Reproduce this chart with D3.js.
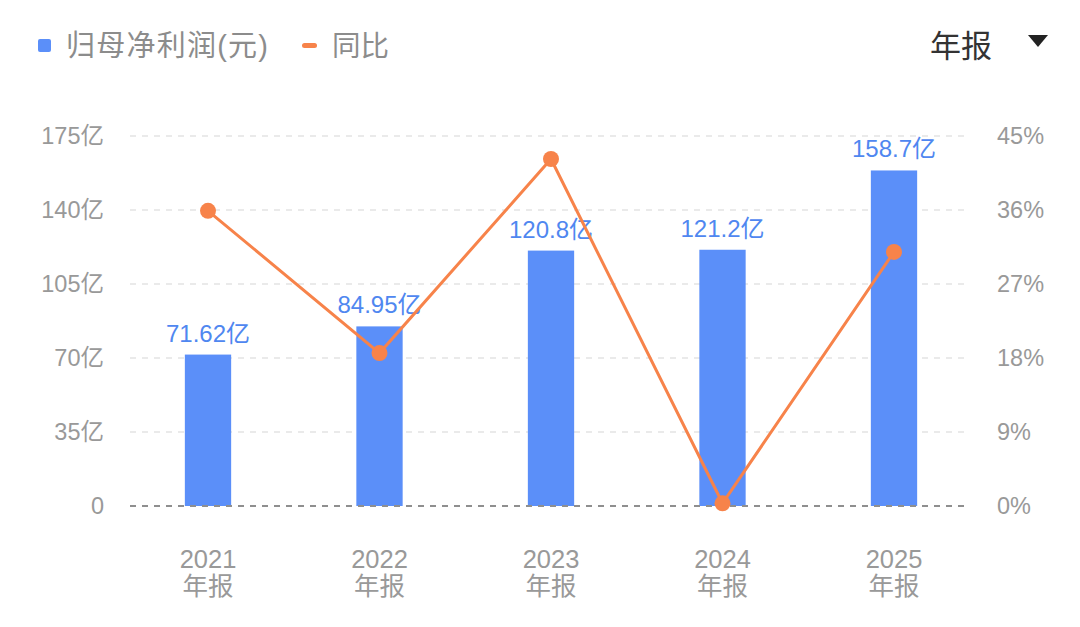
<!DOCTYPE html>
<html><head><meta charset="utf-8">
<script src="https://cdn.jsdelivr.net/npm/d3@7"></script>
<style>
html,body{margin:0;padding:0;background:#fff;}
svg{display:block;font-family:"Liberation Sans","Noto Sans CJK SC",sans-serif;}
</style></head>
<body>
<svg id="c" width="1080" height="627"></svg>
<script>
const years = ["2021","2022","2023","2024","2025"];
const periodLabel = "年报";
const profit = [71.62, 84.95, 120.8, 121.2, 158.7];
const profitLabels = ["71.62亿","84.95亿","120.8亿","121.2亿","158.7亿"];
const yoy = [35.9, 18.6, 42.2, 0.33, 30.9];
const leftTicks = [0, 35, 70, 105, 140, 175];
const rightTicks = [0, 9, 18, 27, 36, 45];

const svg = d3.select("#c");
const blue = "#5b8ff9", orange = "#f7834a", gray = "#999";
const ff = "Liberation Sans, Noto Sans CJK SC, sans-serif";

const x = d3.scaleBand().domain(years).range([122.25, 979.75]).paddingInner(0.73).paddingOuter(0.365);
const yL = d3.scaleLinear().domain([0, 175]).range([506, 136]);
const yR = d3.scaleLinear().domain([0, 45]).range([506, 136]);

// gridlines
svg.append("g").selectAll("line").data(leftTicks.filter(d => d > 0)).join("line")
  .attr("x1", 130).attr("x2", 965)
  .attr("y1", d => yL(d)).attr("y2", d => yL(d))
  .attr("stroke", "#e3e3e3").attr("stroke-width", 1.5).attr("stroke-dasharray", "6,6");

// left axis
const axL = svg.append("g").attr("transform", "translate(104,0)")
  .call(d3.axisLeft(yL).tickValues(leftTicks).tickSize(0).tickPadding(0).tickFormat(d => d === 0 ? "0" : d + "亿"));
axL.select(".domain").remove();
axL.selectAll("text").attr("fill", gray).attr("font-size", 23.5).attr("font-family", ff);

// right axis
const axR = svg.append("g").attr("transform", "translate(997,0)")
  .call(d3.axisRight(yR).tickValues(rightTicks).tickSize(0).tickPadding(0).tickFormat(d => d + "%"));
axR.select(".domain").remove();
axR.selectAll("text").attr("fill", gray).attr("font-size", 23.5).attr("font-family", ff);

// bars
svg.append("g").selectAll("rect").data(profit).join("rect")
  .attr("x", (d, i) => x(years[i])).attr("width", x.bandwidth())
  .attr("y", d => yL(d)).attr("height", d => yL(0) - yL(d))
  .attr("fill", blue);

// baseline
svg.append("line").attr("x1", 130).attr("x2", 965).attr("y1", yL(0)).attr("y2", yL(0))
  .attr("stroke", "#8f8f8f").attr("stroke-width", 2).attr("stroke-dasharray", "6,6");

// value labels
svg.append("g").selectAll("text").data(profit).join("text")
  .attr("x", (d, i) => x(years[i]) + x.bandwidth() / 2)
  .attr("y", d => yL(d) - 13)
  .attr("text-anchor", "middle").attr("fill", "#4f87f0").attr("font-size", 24)
  .text((d, i) => profitLabels[i]);

// line
const cx = (d, i) => x(years[i]) + x.bandwidth() / 2;
svg.append("path").datum(yoy)
  .attr("d", d3.line().x(cx).y(d => yR(d)))
  .attr("fill", "none").attr("stroke", orange).attr("stroke-width", 3);
svg.append("g").selectAll("circle").data(yoy).join("circle")
  .attr("cx", cx).attr("cy", d => yR(d)).attr("r", 8).attr("fill", orange);

// x labels
const xl = svg.append("g").selectAll("text").data(years).join("text")
  .attr("text-anchor", "middle").attr("fill", gray).attr("font-size", 25.5);
xl.append("tspan").attr("x", d => x(d) + x.bandwidth() / 2).attr("y", 568).text(d => d);
xl.append("tspan").attr("x", d => x(d) + x.bandwidth() / 2).attr("y", 595).text(periodLabel);

// legend
svg.append("rect").attr("x", 38).attr("y", 39).attr("width", 13).attr("height", 13).attr("rx", 2).attr("fill", blue);
svg.append("text").attr("x", 66).attr("y", 56).attr("fill", "#8c8c8c").attr("font-size", 29)
  .attr("textLength", 202).attr("lengthAdjust", "spacing").text("归母净利润(元)");
svg.append("rect").attr("x", 302).attr("y", 43).attr("width", 15).attr("height", 5).attr("rx", 2.5).attr("fill", orange);
svg.append("text").attr("x", 332).attr("y", 56).attr("fill", "#8c8c8c").attr("font-size", 28.5).text("同比");

// period selector
svg.append("text").attr("x", 930).attr("y", 57).attr("fill", "#333").attr("font-size", 31).text(periodLabel);
svg.append("path").attr("d", "M1028,35 L1048,35 L1038,47 Z").attr("fill", "#222");
</script>
</body></html>
